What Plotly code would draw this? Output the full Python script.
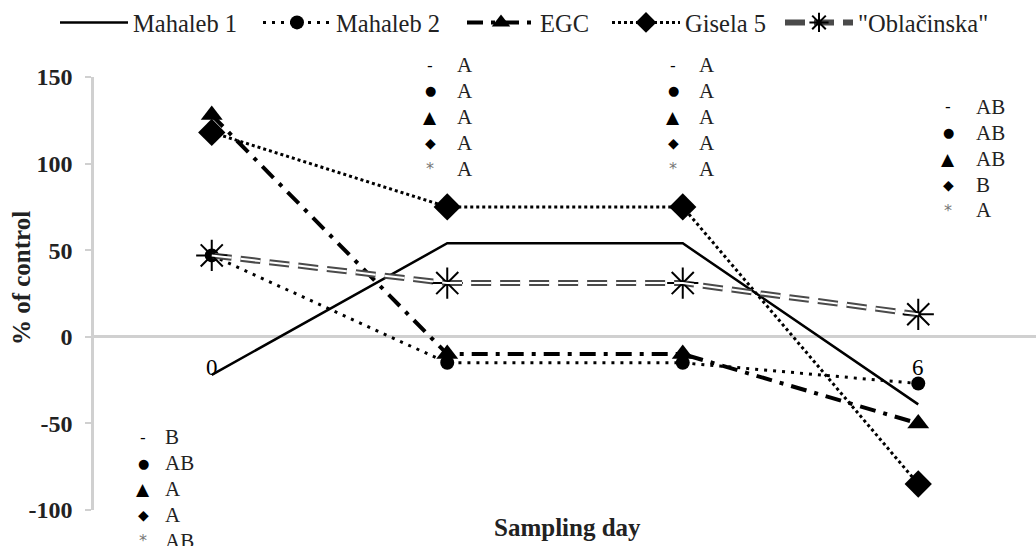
import plotly.graph_objects as go

# ---------------- data ----------------
sampling_index = [0, 1, 2, 3]
x_tick_text = ["0", "", "", "6"]

series_names = ["Mahaleb 1", "Mahaleb 2", "EGC", "Gisela 5", '"Oblačinska"']
mahaleb1 = [-22, 54, 54, -39]
mahaleb2 = [47, -15, -15, -27]
egc = [128, -10, -10, -50]
gisela5 = [118, 75, 75, -85]
oblacinska = [47, 31, 31, 13]

group_symbols = ["-", "●", "▲", "◆", "*"]
letters_day0 = ["B", "AB", "A", "A", "AB"]
letters_day1 = ["A", "A", "A", "A", "A"]
letters_day2 = ["A", "A", "A", "A", "A"]
letters_day6 = ["AB", "AB", "AB", "B", "A"]

y_ticks = [-100, -50, 0, 50, 100, 150]
y_tick_text = ["-100", "-50", "0", "50", "100", "150"]

# ---------------- figure ----------------
W, H = 1036, 546
ML, MR, MT, MB = 94, 0, 75, 36
PW, PH = W - ML - MR, H - MT - MB
YMIN, YMAX = -100, 150
SERIF = "Liberation Serif"
BLACK = "#000000"
TXT = "#222222"
AXGRAY = "#d0d0d0"
LEGEND_IDS = ["legend", "legend2", "legend3", "legend4", "legend5"]
LEGEND_PX = [60, 263, 467, 612, 785]

fig = go.Figure()

fig.add_trace(go.Scatter(
    x=sampling_index, y=mahaleb1, name=series_names[0], mode="lines", legend=LEGEND_IDS[0],
    line=dict(color=BLACK, width=2.5)))
fig.add_trace(go.Scatter(
    x=sampling_index, y=mahaleb2, name=series_names[1], mode="lines+markers", legend=LEGEND_IDS[1],
    line=dict(color=BLACK, width=3, dash="3px,6px"),
    marker=dict(symbol="circle", size=14, color=BLACK)))
fig.add_trace(go.Scatter(
    x=sampling_index, y=egc, name=series_names[2], mode="lines+markers", legend=LEGEND_IDS[2],
    line=dict(color=BLACK, width=4, dash="16px,8px,4px,8px"),
    marker=dict(symbol="triangle-up", size=19, color=BLACK)))
fig.add_trace(go.Scatter(
    x=sampling_index, y=gisela5, name=series_names[3], mode="lines+markers", legend=LEGEND_IDS[3],
    line=dict(color=BLACK, width=3, dash="3px,3px"),
    marker=dict(symbol="diamond", size=21, color=BLACK)))
fig.add_trace(go.Scatter(
    x=sampling_index, y=oblacinska, name=series_names[4], mode="lines+markers", legend=LEGEND_IDS[4],
    line=dict(color="#4a4a4a", width=6, dash="20px,9px"),
    marker=dict(symbol="asterisk-open", size=26, color=BLACK,
                line=dict(color=BLACK, width=2))))
fig.add_trace(go.Scatter(
    x=sampling_index, y=oblacinska, name=series_names[4], mode="lines",
    showlegend=False, hoverinfo="skip",
    line=dict(color="#ffffff", width=2, dash="20px,9px")))

# ---------------- annotations ----------------
def px2paper(px, py):
    return (px - ML) / PW, (H - MB - py) / PH

annotations = []

def add_group(letters, sym_x, let_x, y0, dy=26):
    for i, (s, l) in enumerate(zip(group_symbols, letters)):
        py = y0 + i * dy
        sx, sy = px2paper(sym_x, py)
        lx, _ = px2paper(let_x, py)
        size = {"-": 16, "●": 13, "▲": 17, "◆": 14, "*": 16}[s]
        color = "#777777" if s == "*" else BLACK
        annotations.append(dict(x=sx, y=sy, xref="paper", yref="paper", text=s,
                                showarrow=False, xanchor="center", yanchor="middle",
                                font=dict(family="DejaVu Sans", size=size, color=color)))
        annotations.append(dict(x=lx, y=sy, xref="paper", yref="paper", text=l,
                                showarrow=False, xanchor="left", yanchor="middle",
                                font=dict(family=SERIF, size=21, color=TXT)))

add_group(letters_day0, 143, 163, 437)
add_group(letters_day1, 430, 455, 63)
add_group(letters_day2, 673, 697, 63)
add_group(letters_day6, 948, 974, 105)

# x tick labels placed below the zero line (axis crosses at 0)
for xi, t in zip(sampling_index, x_tick_text):
    if t:
        annotations.append(dict(x=xi, y=0, xref="x", yref="y", text=t, showarrow=False,
                                yanchor="top", yshift=-16,
                                font=dict(family=SERIF, size=23, color=BLACK)))

tx, ty = px2paper(21, 277)
annotations.append(dict(x=tx, y=ty, xref="paper", yref="paper", text="<b>% of control</b>",
                        textangle=-90, showarrow=False, xanchor="center", yanchor="middle",
                        font=dict(family=SERIF, size=25, color=TXT)))
sx, sy = px2paper(567, 528)
annotations.append(dict(x=sx, y=sy, xref="paper", yref="paper", text="<b>Sampling day</b>",
                        showarrow=False, xanchor="center", yanchor="middle",
                        font=dict(family=SERIF, size=25, color=TXT)))

zero_frac = (0 - YMIN) / (YMAX - YMIN)

legends = {}
for lid, lpx in zip(LEGEND_IDS, LEGEND_PX):
    legends[lid] = dict(orientation="h", x=(lpx - 5 - ML) / PW, y=(H - MB - 20) / PH,
                        xanchor="left", yanchor="middle", itemwidth=68,
                        font=dict(family=SERIF, size=24.5, color=TXT),
                        bgcolor="rgba(0,0,0,0)")

fig.update_layout(
    width=W, height=H,
    margin=dict(l=ML, r=MR, t=MT, b=MB, pad=0),
    paper_bgcolor="white", plot_bgcolor="white",
    font=dict(family=SERIF, size=20, color=TXT),
    showlegend=True,
    xaxis=dict(range=[-0.5, 3.5], showgrid=False, zeroline=False, showline=False,
               showticklabels=False, ticks="", anchor="free", position=zero_frac,
               minor=dict(tick0=0.5, dtick=1, ticks="outside", ticklen=7,
                          tickcolor=AXGRAY, tickwidth=1.5, showgrid=False)),
    yaxis=dict(range=[YMIN, YMAX], tickvals=y_ticks, ticktext=y_tick_text, showgrid=False,
               zeroline=True, zerolinecolor=AXGRAY, zerolinewidth=2.5,
               showline=True, linecolor=AXGRAY, linewidth=2.5,
               ticks="outside", ticklen=6, tickcolor=AXGRAY, tickwidth=2,
               ticklabelstandoff=8,
               tickfont=dict(family=SERIF, size=24, color=TXT, weight="bold")),
    annotations=annotations,
    **legends,
)

fig.write_html("out.html")
